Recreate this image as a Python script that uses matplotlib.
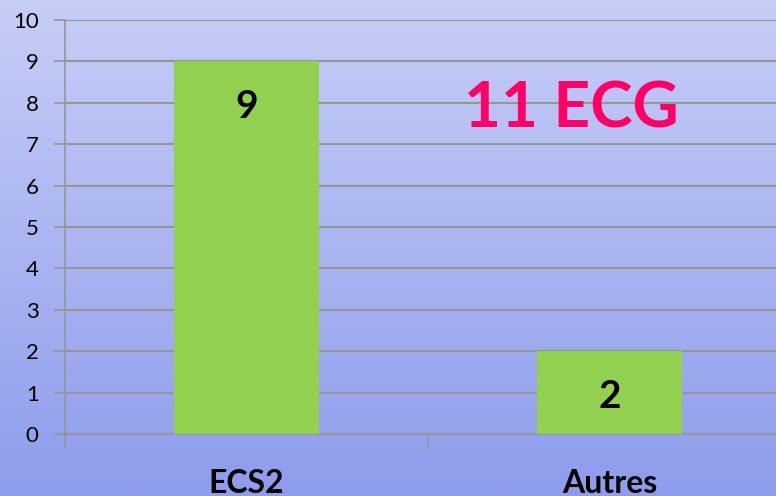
import numpy as np
import matplotlib
matplotlib.use("Agg")
import matplotlib.pyplot as plt
from matplotlib.colors import LinearSegmentedColormap

categories = ["ECS2", "Autres"]
values = [9, 2]
yticks = [0, 1, 2, 3, 4, 5, 6, 7, 8, 9, 10]
annotation = "11 ECG"

plt.rcParams['font.family'] = ['Lato', 'DejaVu Sans']

W, H = 776, 496
fig = plt.figure(figsize=(W / 100, H / 100), dpi=100)

# gradient background
bg = fig.add_axes([0, 0, 1, 1], zorder=-10)
cmap = LinearSegmentedColormap.from_list("bg", ["#C6CEF6", "#8E9CEC"])
grad = np.linspace(0, 1, 256).reshape(-1, 1)
bg.imshow(grad, aspect="auto", cmap=cmap, extent=[0, 1, 0, 1], origin="upper")
bg.set_axis_off()

left = 65 / W
right = 791 / W
bottom = (H - 434) / H
top = (H - 20) / H
ax = fig.add_axes([left, bottom, right - left, top - bottom])
ax.patch.set_alpha(0)

x = np.arange(len(categories))
ax.bar(x, values, width=0.4, color="#92D050", zorder=3)
ax.set_xlim(-0.5, 1.5)
ax.set_ylim(0, 10)
ax.set_yticks(yticks)
ax.set_yticklabels([str(t) for t in yticks], fontsize=16)
ax.yaxis.grid(True, color="#969696", linewidth=1.5, zorder=0)
ax.tick_params(axis="y", length=8, width=1.2, color="#969696", pad=11)

ax.set_xticks([-0.5, 0.5])
ax.set_xticklabels([])
ax.tick_params(axis="x", length=11, width=1.2, color="#969696")
for i, c in enumerate(categories):
    ax.text(i, -1.2, c, ha="center", va="center", fontsize=23, fontweight="bold",
            transform=ax.transData, clip_on=False)

for s in ["top", "right"]:
    ax.spines[s].set_visible(False)
ax.spines["left"].set_color("#969696")
ax.spines["left"].set_linewidth(1.2)
ax.spines["bottom"].set_color("#969696")
ax.spines["bottom"].set_linewidth(1.5)

for i, v in enumerate(values):
    ax.text(i, v - 1.1, str(v), ha="center", va="center", fontsize=28,
            fontweight="bold", zorder=4)

ax.text(0.895, 7.85, annotation, ha="center", va="center", fontsize=46,
        fontweight="bold", color="#FF0066", zorder=4)

fig.savefig("out.png", dpi=100)
